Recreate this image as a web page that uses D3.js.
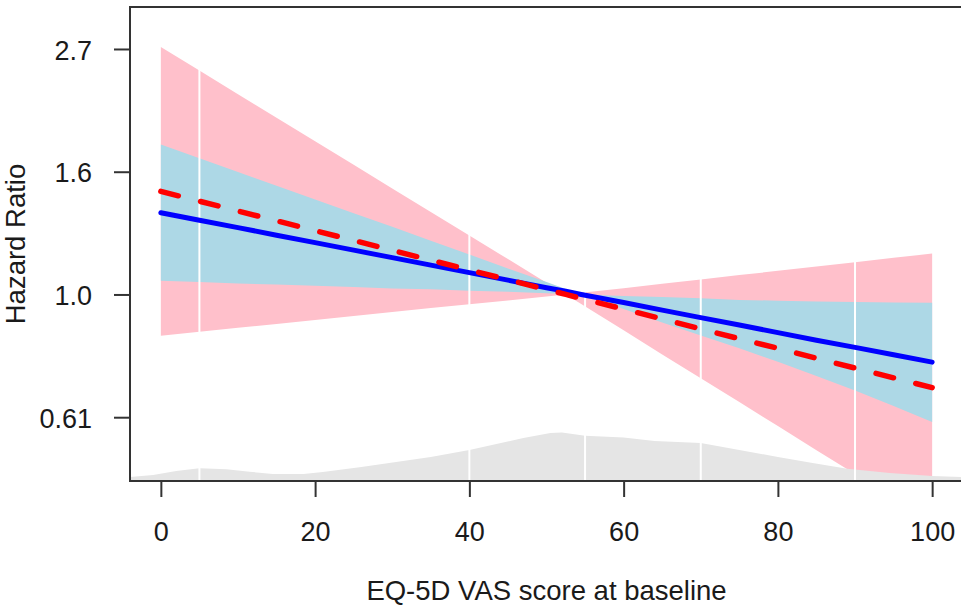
<!DOCTYPE html>
<html>
<head>
<meta charset="utf-8">
<script src="https://cdn.jsdelivr.net/npm/d3@7"></script>
<style>
  html, body { margin: 0; padding: 0; background: #fff; }
  svg { display: block; }
</style>
</head>
<body>
<svg id="chart" width="961" height="607"></svg>
<script>
// ---- data ----
const xGrid   = [0, 5, 10, 15, 20, 25, 30, 35, 40, 45, 50, 52.5, 54.5, 60, 65, 70, 75, 80, 85, 90, 95, 100];
// spline model (blue) hazard ratio and 95% CI
const blueHR  = [1.395, 1.353, 1.313, 1.273, 1.235, 1.198, 1.162, 1.127, 1.093, 1.060, 1.028, 1.013, 1.000, 0.968, 0.938, 0.910, 0.883, 0.856, 0.830, 0.806, 0.782, 0.759];
const blueLo  = [1.057, 1.052, 1.046, 1.041, 1.036, 1.031, 1.025, 1.021, 1.015, 1.011, 1.005, 1.003, 1.000, 0.942, 0.892, 0.846, 0.803, 0.760, 0.717, 0.676, 0.635, 0.595];
const blueHi  = [1.842, 1.741, 1.647, 1.557, 1.473, 1.392, 1.317, 1.244, 1.177, 1.112, 1.052, 1.023, 1.000, 0.994, 0.990, 0.985, 0.978, 0.975, 0.972, 0.970, 0.968, 0.967];
// linear model (red dashed) hazard ratio and 95% CI
const redHR   = [1.522, 1.462, 1.405, 1.350, 1.297, 1.246, 1.197, 1.150, 1.105, 1.062, 1.020, 1.000, 0.984, 0.942, 0.905, 0.869, 0.835, 0.803, 0.771, 0.741, 0.712, 0.684];
const pinkLo  = [0.845, 0.859, 0.873, 0.887, 0.901, 0.916, 0.931, 0.946, 0.961, 0.976, 0.992, 1.000, 0.962, 0.864, 0.783, 0.711, 0.645, 0.585, 0.530, 0.481, 0.437, 0.396];
const pinkHi  = [2.740, 2.489, 2.261, 2.054, 1.866, 1.696, 1.540, 1.399, 1.271, 1.155, 1.049, 1.000, 1.007, 1.026, 1.045, 1.063, 1.082, 1.101, 1.121, 1.140, 1.161, 1.181];
// distribution of baseline score (relative density)
const densX   = [-4, -1, 2, 5, 8.5, 11.5, 14.5, 18.5, 21, 26, 30.5, 35, 40, 43.5, 47, 50.5, 52, 55, 60, 64, 70, 75, 80, 84.5, 89, 94.5, 100, 104];
const densV   = [0.004, 0.006, 0.010, 0.0127, 0.0117, 0.0093, 0.007, 0.007, 0.009, 0.014, 0.019, 0.024, 0.031, 0.037, 0.043, 0.048, 0.0485, 0.0453, 0.0435, 0.040, 0.038, 0.031, 0.024, 0.018, 0.0123, 0.008, 0.005, 0.004];
const knots   = [5, 40, 55, 70, 90];
const xTicks  = [0, 20, 40, 60, 80, 100];
const yTickHR = [0.6065, 1, 1.6487, 2.7183];
const yTickLabels = ["0.61", "1.0", "1.6", "2.7"];
const xTitle = "EQ-5D VAS score at baseline";
const yTitle = "Hazard Ratio";

// ---- layout ----
const L = 130, R = 963, T = 7, B = 481;
const FONT = "'Liberation Sans', Arial, Helvetica, sans-serif";
const svg = d3.select("#chart");

const x = d3.scaleLinear().domain([-4, 104]).range([L, R]);
const y = d3.scaleLog().domain([0.4677, 3.2253]).range([B, T]);
const yd = d3.scaleLinear().domain([0, 0.05]).range([B, B - 50]);

svg.append("defs").append("clipPath").attr("id", "plotclip")
  .append("rect").attr("x", L).attr("y", T).attr("width", R - L).attr("height", B - T);

const plot = svg.append("g").attr("clip-path", "url(#plotclip)");

const idx = d3.range(xGrid.length);

const bandArea = (lo, hi) => d3.area()
  .x(i => x(xGrid[i]))
  .y0(i => y(lo[i]))
  .y1(i => y(hi[i]));

plot.append("path").attr("d", bandArea(pinkLo, pinkHi)(idx)).attr("fill", "pink");
plot.append("path").attr("d", bandArea(blueLo, blueHi)(idx)).attr("fill", "lightblue");

plot.append("path")
  .attr("d", d3.area().x(i => x(densX[i])).y0(B).y1(i => yd(densV[i]))(d3.range(densX.length)))
  .attr("fill", "#e5e5e5");

plot.selectAll("line.knot").data(knots).join("line")
  .attr("class", "knot")
  .attr("x1", d => x(d)).attr("x2", d => x(d))
  .attr("y1", T).attr("y2", B)
  .attr("stroke", "#fff").attr("stroke-width", 2);

const lineGen = vals => d3.line().x(i => x(xGrid[i])).y(i => y(vals[i]))(idx);

plot.append("path").attr("d", lineGen(blueHR))
  .attr("fill", "none").attr("stroke", "#0000ff").attr("stroke-width", 5)
  .attr("stroke-linecap", "round").attr("stroke-linejoin", "round");

plot.append("path").attr("d", lineGen(redHR))
  .attr("fill", "none").attr("stroke", "#ff0000").attr("stroke-width", 5.5)
  .attr("stroke-dasharray", "18,23").attr("stroke-linecap", "round");

// box
svg.append("rect").attr("x", L).attr("y", T).attr("width", R - L).attr("height", B - T)
  .attr("fill", "none").attr("stroke", "#333").attr("stroke-width", 2);

// axes
const xAxis = svg.append("g").attr("transform", `translate(0,${B})`)
  .call(d3.axisBottom(x).tickValues(xTicks).tickFormat(d3.format("d")).tickSize(16).tickPadding(25));
const yAxis = svg.append("g").attr("transform", `translate(${L},0)`)
  .call(d3.axisLeft(y).tickValues(yTickHR).tickFormat((d, i) => yTickLabels[i]).tickSize(16).tickPadding(22));

[xAxis, yAxis].forEach(g => {
  g.select(".domain").remove();
  g.selectAll(".tick line").attr("stroke", "#333").attr("stroke-width", 2);
  g.selectAll(".tick text").attr("fill", "#1a1a1a").attr("font-size", 27).attr("font-family", FONT);
});
yAxis.selectAll(".tick text").attr("dy", "0.38em");

svg.append("text").attr("x", (L + R) / 2).attr("y", 600)
  .attr("text-anchor", "middle").attr("font-size", 27.5).attr("font-family", FONT)
  .attr("fill", "#1a1a1a").text(xTitle);

svg.append("text").attr("transform", `translate(25,244) rotate(-90)`)
  .attr("text-anchor", "middle").attr("font-size", 27.5).attr("font-family", FONT)
  .attr("fill", "#1a1a1a").text(yTitle);
</script>
</body>
</html>
